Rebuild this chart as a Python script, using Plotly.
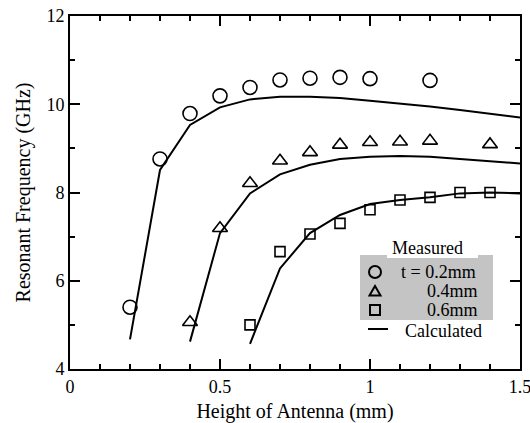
import plotly.graph_objects as go

# Measured data
h_02 = [0.2, 0.3, 0.4, 0.5, 0.6, 0.7, 0.8, 0.9, 1.0, 1.2]
f_02 = [5.40, 8.76, 9.79, 10.19, 10.38, 10.55, 10.59, 10.61, 10.58, 10.54]
h_04 = [0.4, 0.5, 0.6, 0.7, 0.8, 0.9, 1.0, 1.1, 1.2, 1.4]
f_04 = [5.06, 7.19, 8.21, 8.72, 8.91, 9.08, 9.14, 9.15, 9.17, 9.09]
h_06 = [0.6, 0.7, 0.8, 0.9, 1.0, 1.1, 1.2, 1.3, 1.4]
f_06 = [5.00, 6.66, 7.06, 7.30, 7.61, 7.83, 7.89, 8.00, 8.00]

# Calculated curves
hc_02 = [0.2, 0.3, 0.4, 0.5, 0.6, 0.7, 0.8, 0.9, 1.0, 1.1, 1.2, 1.3, 1.4, 1.5]
fc_02 = [4.67, 8.51, 9.53, 9.93, 10.11, 10.17, 10.17, 10.14, 10.08, 10.02, 9.95, 9.87, 9.79, 9.70]
hc_04 = [0.4, 0.5, 0.6, 0.7, 0.8, 0.9, 1.0, 1.1, 1.2, 1.3, 1.4, 1.5]
fc_04 = [4.62, 7.08, 7.98, 8.41, 8.63, 8.76, 8.81, 8.83, 8.81, 8.76, 8.71, 8.66]
hc_06 = [0.6, 0.7, 0.8, 0.9, 1.0, 1.1, 1.2, 1.3, 1.4, 1.5]
fc_06 = [4.57, 6.28, 7.08, 7.49, 7.74, 7.83, 7.89, 7.98, 8.00, 7.98]

x_tickvals = [0, 0.5, 1, 1.5]
x_ticktext = ["0", "0.5", "1", "1.5"]
y_tickvals = [4, 6, 8, 10, 12]

FONT = "Liberation Serif"
W, H = 530, 423
ML, MR, MT, MB = 70, 10, 16, 54
PW, PH = W - ML - MR, H - MT - MB


def px(x):
    return (x - ML) / PW


def py(y):
    return (H - MB - y) / PH


fig = go.Figure()
for hx, fy in [(hc_02, fc_02), (hc_04, fc_04), (hc_06, fc_06)]:
    fig.add_trace(go.Scatter(x=hx, y=fy, mode="lines",
                             line=dict(color="black", width=2), showlegend=False))

fig.add_trace(go.Scatter(x=h_02, y=f_02, mode="markers", showlegend=False,
                         marker=dict(symbol="circle-open", size=14,
                                     line=dict(color="black", width=1.6), color="black")))
fig.add_trace(go.Scatter(x=h_04, y=f_04, mode="markers", showlegend=False,
                         marker=dict(symbol="triangle-up-open", size=13,
                                     line=dict(color="black", width=1.6), color="black")))
fig.add_trace(go.Scatter(x=h_06, y=f_06, mode="markers", showlegend=False,
                         marker=dict(symbol="square-open", size=10,
                                     line=dict(color="black", width=1.6), color="black")))

shapes = [
    dict(type="rect", xref="paper", yref="paper", layer="below",
         x0=px(360), x1=px(493), y0=py(320), y1=py(255),
         fillcolor="#c4c4c4", line=dict(width=0)),
    dict(type="rect", xref="paper", yref="paper", layer="below",
         x0=px(387), x1=px(478), y0=py(258), y1=py(254),
         fillcolor="white", line=dict(width=0)),
    # legend key symbols
    dict(type="circle", xref="paper", yref="paper", xsizemode="pixel", ysizemode="pixel",
         xanchor=px(375), yanchor=py(272), x0=-6, x1=6, y0=-6, y1=6,
         line=dict(color="black", width=2)),
    dict(type="path", xref="paper", yref="paper", xsizemode="pixel", ysizemode="pixel",
         xanchor=px(375), yanchor=py(291), path="M -5.5 -4.5 L 5.5 -4.5 L 0 5 Z",
         line=dict(color="black", width=2)),
    dict(type="rect", xref="paper", yref="paper", xsizemode="pixel", ysizemode="pixel",
         xanchor=px(375), yanchor=py(310), x0=-5, x1=5, y0=-5, y1=5,
         line=dict(color="black", width=2)),
    dict(type="line", xref="paper", yref="paper",
         x0=px(368), x1=px(388), y0=py(329), y1=py(329),
         line=dict(color="black", width=2)),
]

lf = dict(family=FONT, size=18, color="black")
annotations = [
    dict(text="Measured", x=px(427), y=py(248), xref="paper", yref="paper",
         xanchor="center", yanchor="middle", showarrow=False, font=lf, borderpad=0),
    dict(text="t = 0.2mm", x=px(400), y=py(272), xref="paper", yref="paper",
         xanchor="left", yanchor="middle", showarrow=False, font=lf, borderpad=0),
    dict(text="0.4mm", x=px(479), y=py(291), xref="paper", yref="paper",
         xanchor="right", yanchor="middle", showarrow=False, font=lf, borderpad=0),
    dict(text="0.6mm", x=px(479), y=py(310), xref="paper", yref="paper",
         xanchor="right", yanchor="middle", showarrow=False, font=lf, borderpad=0),
    dict(text="Calculated", x=px(404), y=py(331), xref="paper", yref="paper",
         xanchor="left", yanchor="middle", showarrow=False, font=lf, borderpad=0),
]

axis_common = dict(showline=True, linecolor="black", linewidth=2, mirror="ticks",
                   ticks="inside", ticklen=10, tickwidth=1.5, tickcolor="black",
                   showgrid=False, zeroline=False, automargin=False,
                   ticklabeloverflow="allow",
                   tickfont=dict(family=FONT, size=18, color="black"))

fig.update_layout(
    width=W, height=H,
    margin=dict(l=ML, r=MR, t=MT, b=MB),
    paper_bgcolor="white", plot_bgcolor="white",
    font=dict(family=FONT, size=18, color="black"),
    shapes=shapes, annotations=annotations,
    xaxis=dict(range=[0, 1.5], tickvals=x_tickvals, ticktext=x_ticktext,
               minor=dict(ticks="inside", ticklen=5, dtick=0.1, tickwidth=1.5,
                          tickcolor="black", showgrid=False),
               title=dict(text="Height of Antenna (mm)", standoff=8,
                          font=dict(family=FONT, size=20, color="black")),
               **axis_common),
    yaxis=dict(range=[4, 12], tickvals=y_tickvals,
               minor=dict(ticks="inside", ticklen=5, dtick=1, tickwidth=1.5,
                          tickcolor="black", showgrid=False),
               title=dict(text="Resonant Frequency (GHz)", standoff=10,
                          font=dict(family=FONT, size=20, color="black")),
               **axis_common),
)

fig.write_html("out.html")
